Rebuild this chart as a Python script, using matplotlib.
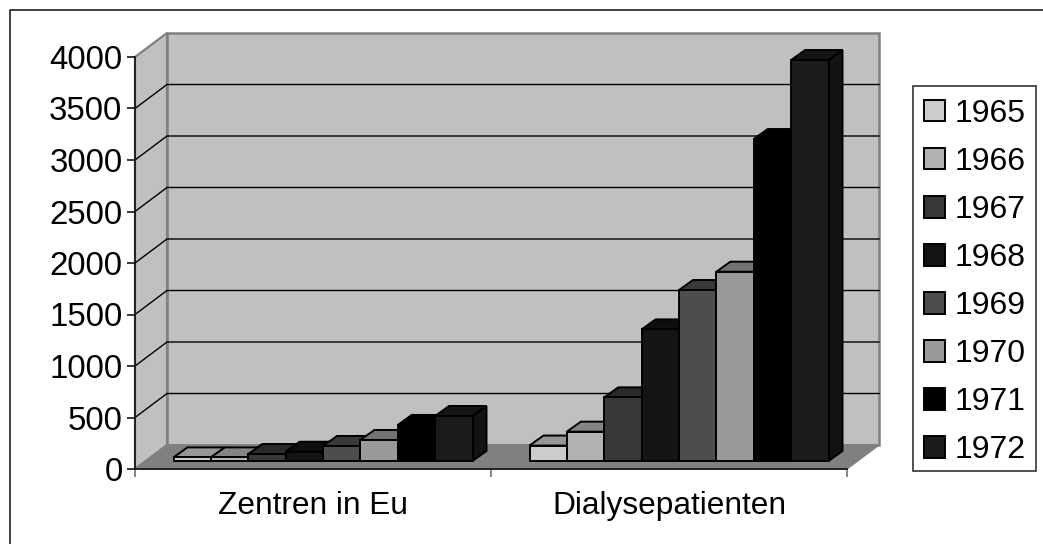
import matplotlib
matplotlib.use("Agg")
import matplotlib.pyplot as plt
from matplotlib.patches import Patch, Polygon, Rectangle
from matplotlib.lines import Line2D

plt.rcParams['font.family'] = ['Liberation Sans', 'DejaVu Sans']

categories = ["Zentren in Eu", "Dialysepatienten"]
years = ["1965", "1966", "1967", "1968", "1969", "1970", "1971", "1972"]
zentren = [35, 35, 68, 90, 146, 204, 350, 437]
patienten = [150, 285, 618, 1278, 1660, 1838, 3126, 3893]
y_ticks = [0, 500, 1000, 1500, 2000, 2500, 3000, 3500, 4000]

front_colors = ["#cccccc", "#b2b2b2", "#383838", "#141414", "#4d4d4d", "#999999", "#000000", "#1c1c1c"]
top_colors = ["#969696", "#858585", "#2a2a2a", "#0f0f0f", "#393939", "#737373", "#000000", "#151515"]
side_colors = ["#8f8f8f", "#808080", "#262626", "#0d0d0d", "#333333", "#666666", "#000000", "#131313"]

W, H = 1043, 544
fig = plt.figure(figsize=(W / 100, H / 100), dpi=100)
ax = fig.add_axes([135 / W, 1 - 469 / H, 712 / W, 412 / H])
ax.set_xlim(0, 2)
ax.set_ylim(0, 4000)

# oblique projection: pixel shifts turned into data units
PX_X = 2 / 712
PX_Y = 4000 / 412


def shift(x, y, dx, dy):
    return (x + dx * PX_X, y + dy * PX_Y)


def face(points, color, edge="black", lw=1.4, z=2):
    ax.add_patch(Polygon(points, closed=True, facecolor=color, edgecolor=edge,
                         linewidth=lw, joinstyle="miter", clip_on=False, zorder=z))


DEEP = (32, 24)

# walls and floor
face([(0, 0), shift(0, 0, *DEEP), shift(0, 4000, *DEEP), (0, 4000)], "#c0c0c0", "#808080", 1.6, 1)
face([shift(0, 0, *DEEP), shift(2, 0, *DEEP), shift(2, 4000, *DEEP), shift(0, 4000, *DEEP)], "#c0c0c0", "#808080", 1.8, 1)
face([(0, 0), (2, 0), shift(2, 0, *DEEP), shift(0, 0, *DEEP)], "#808080", "#808080", 1, 1)

for v in y_ticks[1:-1]:
    xs = [0, shift(0, v, *DEEP)[0], shift(2, v, *DEEP)[0]]
    ys = [v, shift(0, v, *DEEP)[1], shift(2, v, *DEEP)[1]]
    ax.plot(xs, ys, color="black", lw=1.0, clip_on=False, zorder=1.5, solid_joinstyle="miter")

# bars, left to right so the later ones overlap the earlier ones
bar_w = 299 / 8 / 356
base = (10, 8)
depth = (14, 10)
for g, values in enumerate([zentren, patienten]):
    x0 = g + (1 - 8 * bar_w) / 2
    for k, v in enumerate(values):
        l, b = shift(x0 + k * bar_w, 0, *base)
        r = l + bar_w
        t = b + v
        face([(r, b), shift(r, b, *depth), shift(r, t, *depth), (r, t)], side_colors[k], z=2 + k * 0.1)
        face([(l, t), (r, t), shift(r, t, *depth), shift(l, t, *depth)], top_colors[k], z=2 + k * 0.1)
        face([(l, b), (r, b), (r, t), (l, t)], front_colors[k], z=2.05 + k * 0.1)

for side in ["top", "right"]:
    ax.spines[side].set_visible(False)
for side in ["left", "bottom"]:
    ax.spines[side].set_linewidth(1.2)
    ax.spines[side].set_color("#111111")
    ax.spines[side].set_zorder(1.8)

ax.set_yticks(y_ticks)
ax.tick_params(axis="y", labelsize=23.8, length=6, width=1.1, pad=3)
ax.set_xticks([0, 1, 2])
ax.set_xticklabels([])
ax.tick_params(axis="x", which="major", length=6, width=1.1, color="#666666")
ax.set_xticks([0.5, 1.5], minor=True)
ax.set_xticklabels(categories, minor=True, fontsize=22.8)
ax.tick_params(axis="x", which="minor", length=0, pad=16)

# legend, with its box drawn separately
fig.add_artist(Rectangle((913 / W, 1 - 471 / H), 123 / W, 385 / H, transform=fig.transFigure,
                         facecolor="white", edgecolor="#333333", linewidth=1.2))
handles = [Patch(facecolor=c, edgecolor="black", linewidth=1.4, label=y)
           for c, y in zip(front_colors, years)]
leg = fig.legend(handles=handles, loc="upper left",
                 bbox_to_anchor=(913 / W, 1 - 88 / H), bbox_transform=fig.transFigure,
                 fontsize=23, handlelength=0.66, handleheight=0.66, handletextpad=0.3,
                 labelspacing=0.565, borderpad=0.34, borderaxespad=0, frameon=False)
leg.set_zorder(5)

# outer chart frame
fig.add_artist(Line2D([10 / W, 10 / W, 1], [0, 1 - 9.5 / H, 1 - 9.5 / H], color="#222222", lw=1.2))

fig.savefig("out.png", dpi=100)
